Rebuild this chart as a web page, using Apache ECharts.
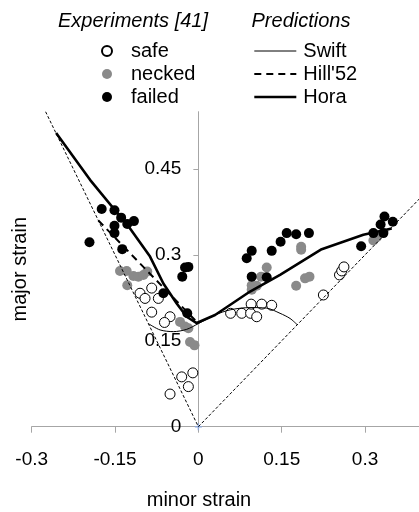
<!DOCTYPE html>
<html><head><meta charset="utf-8">
<script src="https://cdn.jsdelivr.net/npm/echarts@6/dist/echarts.min.js"></script>
<style>html,body{margin:0;padding:0;background:#fff}#c{width:419px;height:512px}</style>
</head><body><div id="c"></div>
<script>
const FONT = '"Liberation Sans", Arial, Helvetica, sans-serif';
const xTicks = [-0.3, -0.15, 0, 0.15, 0.3];
const yTicks = [0, 0.15, 0.3, 0.45];

const safe = [
  [-0.105,0.233],[-0.084,0.242],[-0.096,0.224],[-0.072,0.224],[-0.084,0.200],[-0.051,0.192],[-0.061,0.182],
  [-0.030,0.087],[-0.010,0.094],[-0.018,0.070],[-0.051,0.057],
  [0.058,0.198],[0.078,0.198],[0.094,0.198],[0.105,0.192],[0.095,0.214],[0.114,0.214],[0.132,0.212],
  [0.225,0.230],[0.254,0.265],[0.258,0.272],[0.262,0.279]
];
const necked = [
  [-0.141,0.272],[-0.129,0.272],[-0.117,0.263],[-0.108,0.262],[-0.099,0.265],[-0.092,0.271],[-0.128,0.247],
  [-0.033,0.183],[-0.024,0.175],[-0.018,0.172],[-0.015,0.148],[-0.007,0.142],
  [0.185,0.314],[0.185,0.309],[0.123,0.278],[0.113,0.262],[0.096,0.247],[0.105,0.246],[0.096,0.239],
  [0.176,0.246],[0.192,0.259],[0.200,0.262],[0.315,0.325],[0.321,0.331]
];
const failed = [
  [-0.174,0.380],[-0.151,0.378],[-0.139,0.365],[-0.128,0.354],[-0.116,0.359],[-0.151,0.351],[-0.151,0.338],
  [-0.196,0.322],[-0.137,0.310],[-0.024,0.278],[-0.018,0.279],[-0.029,0.262],[-0.063,0.233],[-0.020,0.198],
  [0.087,0.294],[0.096,0.307],[0.132,0.307],[0.148,0.323],[0.159,0.338],[0.176,0.336],[0.199,0.338],
  [0.096,0.262],[0.123,0.261],[0.293,0.315],[0.315,0.338],[0.335,0.367],[0.328,0.353],[0.350,0.358],[0.333,0.338]
];
const swift = [
  [-0.09,0.18],[-0.069,0.169],[-0.045,0.166],[-0.021,0.17],[0,0.18],[0.03,0.195],[0.057,0.204],
  [0.093,0.208],[0.123,0.207],[0.147,0.198],[0.165,0.189],[0.178,0.178]
];
const hill52 = [[-0.18,0.36],[0,0.18]];
const hora = [
  [-0.256,0.513],[-0.195,0.431],[-0.123,0.346],[-0.087,0.297],[-0.063,0.25],[-0.039,0.215],
  [-0.021,0.192],[-0.003,0.181],[0.03,0.195],[0.093,0.236],[0.147,0.265],[0.222,0.31],[0.297,0.335],[0.348,0.346]
];
const uniaxial = [[-0.275,0.55],[0,0]];
const biaxial = [[0,0],[0.4,0.4]];
const origin = [[0,0]];

const X_MIN = -0.3, X_MAX = 0.4;
const GRID_L = 31.7, GRID_R = -1.6;
const plotW = 419 - GRID_L - GRID_R;
const yAxisShift = -plotW * (0 - X_MIN) / (X_MAX - X_MIN);

const chart = echarts.init(document.getElementById('c'));
const axisCol = '#a6a6a6';
const clear = 'rgba(0,0,0,0)';
chart.setOption({
  animation: false,
  backgroundColor: '#fff',
  textStyle: { fontFamily: FONT },
  grid: { left: GRID_L, right: GRID_R, top: 111.7, bottom: 85.3, containLabel: false, outerBoundsMode: 'none' },
  xAxis: {
    type: 'value', min: X_MIN, max: X_MAX,
    axisLine: { onZero: false, lineStyle: { color: axisCol, width: 1 } },
    axisTick: { show: true, length: 6, customValues: xTicks, lineStyle: { color: axisCol } },
    axisLabel: { customValues: xTicks, margin: 24, fontSize: 19, color: '#000', fontFamily: FONT },
    splitLine: { show: false }
  },
  yAxis: {
    type: 'value', min: 0, max: 0.55, position: 'left', offset: yAxisShift,
    name: 'major strain', nameLocation: 'middle', nameGap: 168,
    nameTextStyle: { fontSize: 20, color: '#000', fontFamily: FONT },
    axisLine: { onZero: false, lineStyle: { color: axisCol, width: 1 } },
    axisTick: { show: true, length: 5, customValues: yTicks, lineStyle: { color: axisCol } },
    axisLabel: { customValues: yTicks, margin: 17, fontSize: 19, color: '#000', fontFamily: FONT },
    splitLine: { show: false }
  },
  legend: [
    { data: ['safe','necked','failed'], orient: 'vertical', left: 101, top: 41, padding: 0,
      itemWidth: 10, itemHeight: 10, itemGap: 3, selectedMode: false,
      textStyle: { fontSize: 20, color: '#000', fontFamily: FONT, padding: [0,0,0,14] } },
    { data: ['Swift', "Hill'52", 'Hora'], orient: 'vertical', left: 253, top: 41, padding: 0,
      itemWidth: 42, itemHeight: 12, itemGap: 3, selectedMode: false,
      itemStyle: { color: clear, borderColor: clear, borderWidth: 0, opacity: 0 },
      lineStyle: { width: 'inherit', type: 'inherit', color: 'inherit' },
      textStyle: { fontSize: 20, color: '#000', fontFamily: FONT, padding: [0,0,0,2] } }
  ],
  graphic: [
    { type: 'text', x: 133, y: 21, style: { text: 'Experiments [41]', font: 'italic 20px ' + FONT, fill: '#000', align: 'center', verticalAlign: 'middle' } },
    { type: 'text', x: 301, y: 21, style: { text: 'Predictions', font: 'italic 20px ' + FONT, fill: '#000', align: 'center', verticalAlign: 'middle' } },
    { type: 'text', x: 199, y: 500, style: { text: 'minor strain', font: '20px ' + FONT, fill: '#000', align: 'center', verticalAlign: 'middle' } }
  ],
  series: [
    { name: 'uniaxial', type: 'line', data: uniaxial, symbol: 'none', silent: true,
      lineStyle: { color: '#000', width: 1, type: [3, 2] } },
    { name: 'biaxial', type: 'line', data: biaxial, symbol: 'none', silent: true,
      lineStyle: { color: '#000', width: 1, type: [3, 2] } },
    { name: 'safe', type: 'scatter', data: safe, symbol: 'circle', symbolSize: 10,
      itemStyle: { color: '#fff', borderColor: '#000', borderWidth: 1, opacity: 1 } },
    { name: 'necked', type: 'scatter', data: necked, symbol: 'circle', symbolSize: 10,
      itemStyle: { color: '#8a8a8a', opacity: 1 } },
    { name: 'failed', type: 'scatter', data: failed, symbol: 'circle', symbolSize: 10,
      itemStyle: { color: '#000', opacity: 1 } },
    { name: 'Swift', type: 'line', data: swift, symbol: 'none', smooth: 0.3,
      itemStyle: { color: '#000' }, lineStyle: { color: '#000', width: 1 } },
    { name: "Hill'52", type: 'line', data: hill52, symbol: 'none',
      itemStyle: { color: '#000' }, lineStyle: { color: '#000', width: 2, type: [7, 5] } },
    { name: 'Hora', type: 'line', data: hora, symbol: 'none',
      itemStyle: { color: '#000' }, lineStyle: { color: '#000', width: 2.6 } },
    { name: 'origin', type: 'scatter', data: origin, symbol: 'path://M4,0H6V4H10V6H6V10H4V6H0V4H4Z', symbolSize: 7,
      itemStyle: { color: '#8fa8d8', opacity: 1 }, silent: true }
  ]
});
</script>
</body></html>
